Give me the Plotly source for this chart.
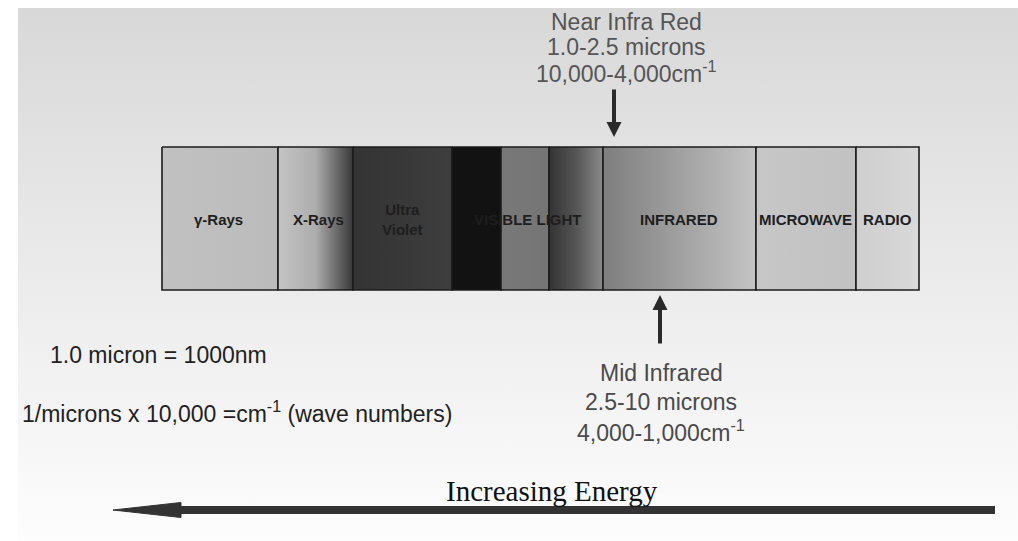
import plotly.graph_objects as go

# ---- data ----
band_names = ["γ-Rays", "X-Rays", "Ultra Violet", "Violet", "Blue", "Red",
              "INFRARED", "MICROWAVE", "RADIO"]
band_edges = [162, 278, 353, 452, 501, 549, 603, 756, 856, 919]
band_left_colors = ["#c1c1c1", "#c4c4c4", "#343434", "#121212", "#787878",
                    "#333333", "#7e7e7e", "#c7c7c7", "#cfcfcf"]
band_mid_colors = ["#bebebe", "#adadad", "#383838", "#121212", "#777777",
                   "#555555", "#a0a0a0", "#c4c4c4", "#d3d3d3"]
band_right_colors = ["#bbbbbb", "#383838", "#3e3e3e", "#121212", "#747474",
                     "#8a8a8a", "#c4c4c4", "#c2c2c2", "#d9d9d9"]
band_labels = ["γ-Rays", "X-Rays", "Ultra<br>Violet", "VISIBLE LIGHT",
               "INFRARED", "MICROWAVE", "RADIO"]
band_label_x = [218, 318, 402, 528, 679, 805, 887]

near_ir_lines = ["Near Infra Red", "1.0-2.5 microns", "10,000-4,000cm<sup>-1</sup>"]
mid_ir_lines = ["Mid Infrared", "2.5-10 microns", "4,000-1,000cm<sup>-1</sup>"]
notes = ["1.0 micron = 1000nm", "1/microns x 10,000 =cm<sup>-1</sup> (wave numbers)"]
energy_label = "Increasing Energy"

W, H = 1018, 541
BAND_TOP, BAND_BOT = 147, 290

fig = go.Figure()

# background gradient
fig.add_trace(go.Scatter(
    x=[18, W, W, 18, 18], y=[8, 8, H, H, 8], mode="lines", line=dict(width=0),
    fill="toself",
    fillgradient=dict(type="vertical", start=8, stop=H,
                      colorscale=[[0, "#d8d8d8"], [0.5, "#ebebeb"], [1, "#fdfdfd"]]),
    hoverinfo="skip", showlegend=False))

# bands
for i, name in enumerate(band_names):
    x0, x1 = band_edges[i], band_edges[i + 1]
    fig.add_trace(go.Scatter(
        x=[x0, x1, x1, x0, x0], y=[BAND_TOP, BAND_TOP, BAND_BOT, BAND_BOT, BAND_TOP],
        mode="lines", line=dict(width=1.6, color="#1c1c1c"), fill="toself",
        fillgradient=dict(type="horizontal", start=x0, stop=x1,
                          colorscale=[[0, band_left_colors[i]], [0.5, band_mid_colors[i]],
                                      [1, band_right_colors[i]]]),
        name=name, hoverinfo="name", showlegend=False))

annotations = []
for lab, lx in zip(band_labels, band_label_x):
    annotations.append(dict(x=lx, y=219, xref="x", yref="y", text=lab, showarrow=False,
                            xanchor="center", yanchor="middle",
                            font=dict(family="Liberation Sans, Arial", size=15,
                                      color="#1e1e1e", weight="bold")))

for j, t in enumerate(near_ir_lines):
    annotations.append(dict(x=626, y=22 + 25 * j, xref="x", yref="y", text=t, showarrow=False,
                            xanchor="center", yanchor="middle",
                            font=dict(family="Liberation Sans, Arial", size=23, color="#555555")))
for j, t in enumerate(mid_ir_lines):
    annotations.append(dict(x=661, y=373 + 29 * j, xref="x", yref="y", text=t, showarrow=False,
                            xanchor="center", yanchor="middle",
                            font=dict(family="Liberation Sans, Arial", size=23, color="#4a4a4a")))

annotations.append(dict(x=48, y=355, xref="x", yref="y", text=notes[0], showarrow=False,
                        xanchor="left", yanchor="middle",
                        font=dict(family="Liberation Sans, Arial", size=23, color="#222222")))
annotations.append(dict(x=20, y=412, xref="x", yref="y", text=notes[1], showarrow=False,
                        xanchor="left", yanchor="middle",
                        font=dict(family="Liberation Sans, Arial", size=23, color="#222222")))
annotations.append(dict(x=552, y=491, xref="x", yref="y", text=energy_label, showarrow=False,
                        xanchor="center", yanchor="middle",
                        font=dict(family="Liberation Serif, Times New Roman", size=29,
                                  color="#111111")))

# near / mid IR arrows
annotations.append(dict(x=614, y=137, ax=614, ay=88, xref="x", yref="y", axref="x", ayref="y",
                        text="", showarrow=True, arrowhead=2, arrowsize=0.75, arrowwidth=4,
                        arrowcolor="#2a2a2a"))
annotations.append(dict(x=660, y=295, ax=660, ay=345, xref="x", yref="y", axref="x", ayref="y",
                        text="", showarrow=True, arrowhead=2, arrowsize=0.75, arrowwidth=4,
                        arrowcolor="#2a2a2a"))

shapes = [
    dict(type="line", xref="x", yref="y", x0=178, x1=995, y0=510, y1=510,
         line=dict(color="#333333", width=8)),
    dict(type="path", xref="x", yref="y", path="M 113,510 L 181,502.5 L 181,517.5 Z",
         fillcolor="#333333", line=dict(color="#333333", width=1)),
]

fig.update_layout(
    width=W, height=H, margin=dict(l=0, r=0, t=0, b=0),
    paper_bgcolor="white", plot_bgcolor="white",
    xaxis=dict(range=[0, W], visible=False, fixedrange=True),
    yaxis=dict(range=[H, 0], visible=False, fixedrange=True),
    annotations=annotations, shapes=shapes, showlegend=False,
)

fig.write_html("out.html", config={"displayModeBar": False})

# remove the browser's default page margin so the figure sits at the window origin
with open("out.html", encoding="utf-8") as f:
    html = f.read()
html = html.replace("<head>", "<head><style>html,body{margin:0;padding:0;overflow:hidden;}</style>", 1)
with open("out.html", "w", encoding="utf-8") as f:
    f.write(html)
